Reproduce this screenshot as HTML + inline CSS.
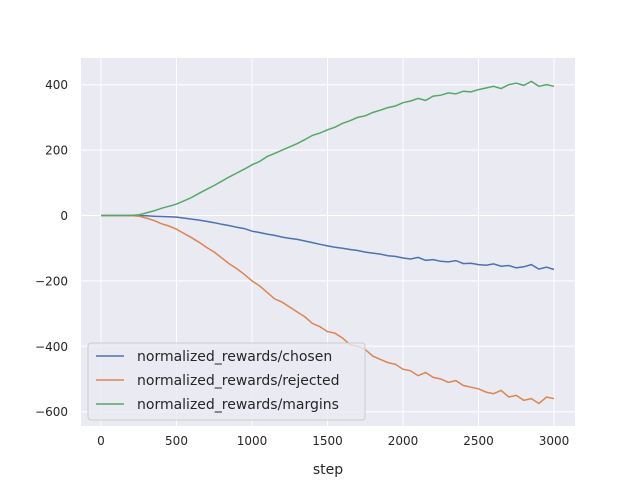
<!DOCTYPE html>
<html><head><meta charset="utf-8"><style>
body{margin:0;background:#fff}
svg{display:block;font-family:"DejaVu Sans","Liberation Sans",sans-serif}
</style></head><body>
<svg id="chart" width="640" height="480" viewBox="0 0 640 480"></svg>
<script>
const steps = [];
for (let i = 0; i <= 60; i++) steps.push(i * 50);
const chosen = [0,0,0,0,0,0,-1,-2,-3,-4,-5,-8,-11,-14,-18,-22,-27,-31,-36,-40,-48,-52,-57,-61,-66,-70,-73,-78,-83,-88,-93,-97,-100,-104,-107,-112,-115,-118,-123,-125,-130,-133,-128,-137,-135,-140,-142,-138,-147,-146,-150,-152,-148,-155,-153,-160,-157,-150,-164,-158,-165];
const rejected = [0,0,0,0,0,-2,-8,-15,-25,-32,-42,-55,-68,-82,-98,-112,-130,-148,-163,-180,-200,-215,-235,-255,-265,-280,-295,-310,-330,-340,-355,-360,-375,-395,-400,-410,-430,-440,-450,-455,-470,-475,-490,-480,-495,-500,-510,-505,-520,-525,-530,-540,-545,-535,-555,-550,-565,-560,-575,-555,-560];
const margins = [0,0,0,0,0,2,8,14,22,28,35,45,55,68,80,92,105,118,130,142,155,165,180,190,200,210,220,232,245,252,262,270,282,290,300,305,315,322,330,335,345,350,358,352,365,368,375,372,380,378,385,390,395,388,400,405,398,410,395,400,395];
const xTicks = [0,500,1000,1500,2000,2500,3000];
const yTicks = [-600,-400,-200,0,200,400];
const seriesNames = ["normalized_rewards/chosen","normalized_rewards/rejected","normalized_rewards/margins"];

const NS = "http://www.w3.org/2000/svg";
const svg = document.getElementById("chart");
const L = 81, R = 575, T = 58, B = 426;
const xs = v => 101 + v * (453 / 3000);
const ys = v => 215.5 - v * (327 / 1000);
function mk(tag, attrs, parent) {
  const e = document.createElementNS(NS, tag);
  for (const k in attrs) e.setAttribute(k, attrs[k]);
  (parent || svg).appendChild(e);
  return e;
}
const bg = mk("rect", {x: L, y: T, width: R - L, height: B - T, fill: "#eaeaf2"});


const colors = ["#4c72b0", "#dd8452", "#55a868"];
xTicks.forEach(t => {
  const g = mk("line", {x1: xs(t), x2: xs(t), y1: T, y2: B, stroke: "#fff", "stroke-width": 1});
  
  
  const tx = mk("text", {x: xs(t), y: B + 19, "text-anchor": "middle", "font-size": 12, fill: "#262626"});
  tx.textContent = t;
  
  
});
yTicks.forEach(t => {
  const g = mk("line", {x1: L, x2: R, y1: ys(t), y2: ys(t), stroke: "#fff", "stroke-width": 1});
  
  
  const tx = mk("text", {x: L - 13, y: ys(t) + 4.5, "text-anchor": "end", "font-size": 12, fill: "#262626"});
  tx.textContent = String(t).replace("-", "\u2212");
  
  
});
const xt = mk("text", {x: 328, y: 474, "text-anchor": "middle", "font-size": 14, fill: "#262626"});
xt.textContent = "step";


[chosen, rejected, margins].forEach((arr, i) => {
  const d = arr.map((v, j) => (j ? "L" : "M") + xs(steps[j]).toFixed(1) + "," + ys(v).toFixed(1)).join("");
  const p = mk("path", {d: d, fill: "none", stroke: colors[i], "stroke-width": 1.5});
  
  
});
const lg = mk("g", {});


mk("rect", {x: 88, y: 343, width: 277, height: 77, rx: 3, fill: "#eaeaf2", "fill-opacity": 0.8, stroke: "#ccc"}, lg);
seriesNames.forEach((n, i) => {
  const y = 356 + i * 24;
  const ln = mk("line", {x1: 96, x2: 124, y1: y, y2: y, stroke: colors[i], "stroke-width": 1.5}, lg);
  
  
  const t = mk("text", {x: 137, y: y + 5, "font-size": 14, fill: "#262626"}, lg);
  t.textContent = n;
  
  
});
</script>
</body></html>
